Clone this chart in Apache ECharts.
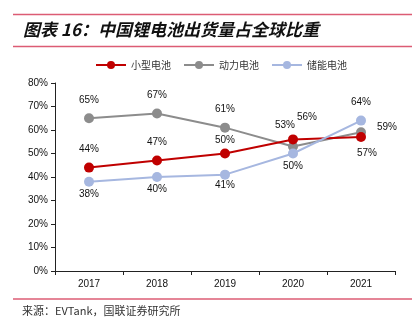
<!DOCTYPE html>
<html><head><meta charset="utf-8">
<script src="https://cdn.jsdelivr.net/npm/echarts@6/dist/echarts.min.js"></script>
<style>html,body{margin:0;padding:0;background:#fff}#c{width:417px;height:330px}</style>
</head><body><div id="c"></div>
<script>
const categories = ['2017','2018','2019','2020','2021'];
const smallBattery = [44, 47, 50, 56, 57];
const powerBattery = [65, 67, 61, 53, 59];
const storageBattery = [38, 40, 41, 50, 64];
const seriesNames = ['小型电池','动力电池','储能电池'];
const yTicks = [0,10,20,30,40,50,60,70,80];

// label offsets (styling, kept apart from data)
const offSmall = [[0,-18],[0,-18],[0,-13],[14,-22],[6,16]];
const offPower = [[0,-18],[0,-18],[0,-18],[-8,-21],[26,-5]];
const offStorage = [[0,13],[0,12],[0,11],[0,13],[0,-18]];

function mk(vals, offs){
  return vals.map((v,i)=>({value:v,label:{offset:offs[i]}}));
}
const lblBase = {show:true, position:'inside', formatter:'{c}%', color:'#111', fontSize:10, fontFamily:'Liberation Sans, Arial'};

const chart = echarts.init(document.getElementById('c'));
chart.setOption({
  animation:false,
  color:['#C00000','#8C8C8C','#A6B7E0'],
  legend:{
    top:55, left:90, itemWidth:30, itemHeight:10, itemGap:12,
    textStyle:{fontSize:10, color:'#333', fontFamily:'Noto Sans CJK SC'},
    data:seriesNames
  },
  grid:{left:55, right:22, top:83, bottom:59},
  xAxis:{
    type:'category', data:categories, boundaryGap:true,
    axisLine:{lineStyle:{color:'#222'}},
    axisTick:{show:true, length:4, lineStyle:{color:'#222'}},
    axisLabel:{fontSize:10, color:'#111', margin:8, fontFamily:'Liberation Sans, Arial'}
  },
  yAxis:{
    type:'value', min:yTicks[0], max:yTicks[yTicks.length-1], interval:10,
    axisLine:{show:true, lineStyle:{color:'#222'}},
    axisTick:{show:true, length:4, lineStyle:{color:'#222'}},
    splitLine:{show:false},
    axisLabel:{fontSize:10, color:'#111', margin:7, formatter:'{value}%', fontFamily:'Liberation Sans, Arial'}
  },
  series:[
    {name:seriesNames[0], type:'line', data:mk(smallBattery,offSmall), symbol:'circle', symbolSize:10, lineStyle:{width:2}, label:lblBase, z:3},
    {name:seriesNames[1], type:'line', data:mk(powerBattery,offPower), symbol:'circle', symbolSize:10, lineStyle:{width:2}, label:lblBase, z:2},
    {name:seriesNames[2], type:'line', data:mk(storageBattery,offStorage), symbol:'circle', symbolSize:10, lineStyle:{width:2}, label:lblBase, z:4}
  ],
  graphic:[
    {type:'line', shape:{x1:13,y1:14.5,x2:412,y2:14.5}, style:{stroke:'#DC5C74', lineWidth:1.5}},
    {type:'line', shape:{x1:13,y1:46.5,x2:412,y2:46.5}, style:{stroke:'#DC5C74', lineWidth:1.5}},
    {type:'line', shape:{x1:13,y1:299,x2:412,y2:299}, style:{stroke:'#DC5C74', lineWidth:1.5}},
    {type:'text', left:23, top:21, style:{text:'图表 16：中国锂电池出货量占全球比重', font:'italic bold 17px "Noto Sans CJK SC"', fill:'#111'}},
    {type:'text', left:22, top:305, style:{text:'来源：EVTank，国联证券研究所', font:'11px "Noto Sans CJK SC"', fill:'#333'}}
  ]
});
</script></body></html>
